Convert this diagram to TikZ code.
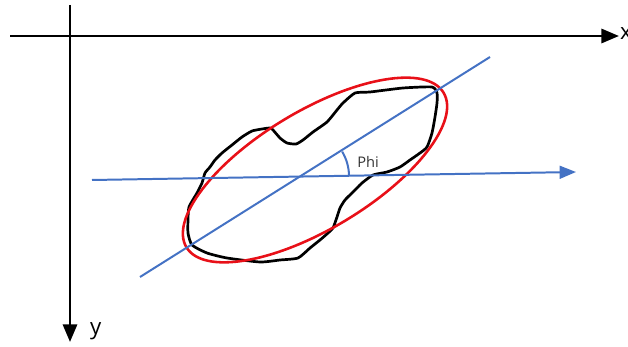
\documentclass[tikz,border=0pt]{standalone}
\usepackage{fontspec}
\setmainfont{Open Sans}
\usepackage{tikz}
\usetikzlibrary{arrows.meta,positioning,calc}
\definecolor{axisblue}{RGB}{68, 114, 196}
\definecolor{fitred}{RGB}{232, 16, 24}

\begin{document}
\begin{tikzpicture}[
    x=0.03cm, y=-0.03cm,
    every node/.style={align=center},
    axis/.style={line width=2.3pt, -{Triangle[length=15pt, width=12pt]}},
    mainline/.style={draw=axisblue, line width=1.7pt},
    fitellipse/.style={draw=fitred, line width=2.2pt},
    blob/.style={draw=black, line width=2.3pt, line join=round},
    lbl/.style={font=\fontsize{19}{19}\selectfont, inner sep=0pt}
]
\useasboundingbox (0,0) rectangle (628,347);

% image axes
\coordinate (xstart) at (10,36);
\coordinate (xend) at (619,36);
\coordinate (ystart) at (70,5);
\coordinate (yend) at (70,342);
\draw[axis] (xstart) -- (xend);
\draw[axis] (ystart) -- (yend);
\node[lbl, anchor=west] (xlabel) at (620,34) {x};
\node[lbl, anchor=west] (ylabel) at (90,331) {y};

% object outline
\draw[blob] plot[smooth cycle, tension=0.35] coordinates {
  (270,128) (273,130) (280,138) (287,143) (296,144) (303,140) (313,132)
  (327,122) (337,110) (343,103) (355,93) (370,92) (403,88) (432,87)
  (437,93) (437,103) (435,117) (432,133) (427,147) (420,153) (410,160)
  (400,167) (387,172) (373,175) (362,183) (357,188) (352,193) (345,200)
  (340,208) (337,217) (333,228) (328,233) (320,240) (310,248) (298,258)
  (280,260) (260,262) (227,258) (207,253) (192,245) (188,233) (188,220)
  (189,207) (197,193) (202,183) (205,173) (210,167) (215,160) (222,153)
  (232,145) (242,137) (252,131) (262,129)};

% fitted ellipse
\coordinate (centre) at (315,170);
\draw[fitellipse, rotate around={31:(centre)}] (centre) ellipse [x radius=150, y radius=59];

% major axis and horizontal reference
\coordinate (majlow) at (140,277);
\coordinate (majhigh) at (490,57);
\coordinate (hstart) at (92,180);
\coordinate (hend) at (576,172);
\draw[mainline] (majlow) -- (majhigh);
\draw[mainline, -{Triangle[length=14pt, width=11pt]}, fill=axisblue] (hstart) -- (hend);

% angle
\coordinate (cross) at (301,176.5);
\draw[mainline] ($(cross)+(48,-1)$) arc[start angle=-1, end angle=-31, radius=48];
\node[font=\fontsize{12.5}{12.5}\selectfont, text=black!80] (philabel) at (368,162) {Phi};

\end{tikzpicture}
\end{document}
